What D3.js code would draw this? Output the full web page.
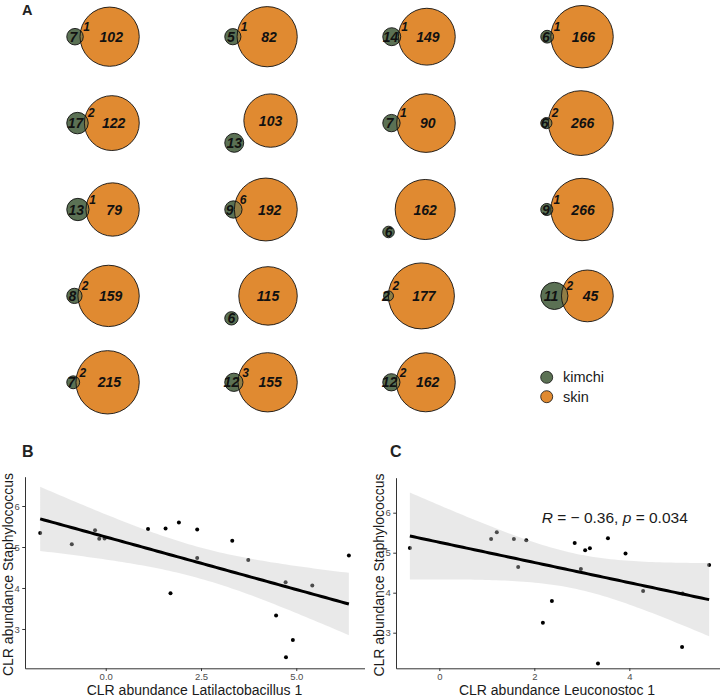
<!DOCTYPE html>
<html>
<head>
<meta charset="utf-8">
<script src="https://cdn.jsdelivr.net/npm/d3@7"></script>
<style>
  body { margin: 0; background: #fff; }
  svg { display: block; font-family: "Liberation Sans", Arial, sans-serif; }
</style>
</head>
<body>
<svg id="fig" width="720" height="696"></svg>
<script>
// panel A: one euler diagram per sample, read row by row (kimchi only / shared / skin only)
const kimchiOnly = [7, 5, 14, 6, 17, 13, 7, 6, 13, 9, 6, 9, 8, 6, 2, 11, 7, 12, 12];
const sharedTaxa = [1, 1, 1, 1, 2, 0, 1, 2, 1, 6, 0, 1, 2, 0, 2, 2, 2, 3, 2];
const skinOnly = [102, 82, 149, 166, 122, 103, 90, 266, 79, 192, 162, 266, 159, 115, 177, 45, 215, 155, 162];
const groups = ["kimchi", "skin"];
const groupColors = ["#5b7154", "#e08a31"];
const lensColor = "#917d45";

// panel B
const latilactoCLR = [-1.72, -0.89, -0.28, -0.17, -0.03, 1.11, 1.57, 1.92, 1.70, 2.40, 2.40, 3.32, 3.74, 4.47, 4.72, 4.73, 4.91, 5.42, 6.38];
const staphB = [5.34, 5.07, 5.41, 5.20, 5.21, 5.44, 5.45, 5.60, 3.87, 5.43, 4.73, 5.15, 4.68, 3.33, 4.14, 2.31, 2.73, 4.06, 4.79];
const xTicksB = [0, 2.5, 5];
const yTicksB = [3, 4, 5, 6];

// panel C
const leuconoCLR = [-0.62, 1.09, 1.21, 1.57, 1.83, 1.66, 2.18, 2.37, 2.85, 2.98, 3.07, 3.17, 3.34, 3.55, 3.92, 4.29, 5.11, 5.12, 5.68];
const staphC = [5.12, 5.34, 5.51, 5.34, 5.31, 4.64, 3.25, 3.79, 5.24, 4.59, 5.06, 5.11, 2.23, 5.36, 4.98, 4.04, 2.64, 3.98, 4.69];
const xTicksC = [0, 2, 4];
const yTicksC = [3, 4, 5, 6];
const corrLabel = ["R", " = \u2212 0.36, ", "p", " = 0.034"];

const svg = d3.select("#fig");

// ---------- panel A ----------
function lensArea(r1, r2, d) {
  if (d >= r1 + r2) return 0;
  if (d <= Math.abs(r1 - r2)) return Math.PI * Math.min(r1, r2) ** 2;
  const a1 = Math.acos((d * d + r1 * r1 - r2 * r2) / (2 * d * r1));
  const a2 = Math.acos((d * d + r2 * r2 - r1 * r1) / (2 * d * r2));
  return r1 * r1 * a1 + r2 * r2 * a2 -
    0.5 * Math.sqrt((-d + r1 + r2) * (d + r1 - r2) * (d - r1 + r2) * (d + r1 + r2));
}
function solveDist(r1, r2, target) {
  let lo = Math.abs(r1 - r2), hi = r1 + r2;
  for (let i = 0; i < 60; i++) {
    const mid = (lo + hi) / 2;
    if (lensArea(r1, r2, mid) > target) lo = mid; else hi = mid;
  }
  return (lo + hi) / 2;
}

const colX = d3.scaleLinear().domain([0, 3]).range([103, 577]);
const rowY = d3.scaleLinear().domain([0, 4]).range([36.7, 382.3]);
const boxW = 72.5, boxH = 66;

skinOnly.forEach((sk, i) => {
  const ko = kimchiOnly[i], sh = sharedTaxa[i];
  const rk = Math.sqrt((ko + sh) / Math.PI);
  const rs = Math.sqrt((sk + sh) / Math.PI);
  let kx, ky;
  if (sh > 0) {
    kx = -solveDist(rk, rs, sh); ky = 0;
  } else {
    // disjoint sets sit off to the lower left
    const d = rs + rk + 0.24 * rs, ang = 31.5 * Math.PI / 180;
    kx = -d * Math.cos(ang); ky = d * Math.sin(ang);
  }
  const x0 = Math.min(kx - rk, -rs), x1 = Math.max(kx + rk, rs);
  const y0 = Math.min(ky - rk, -rs), y1 = Math.max(ky + rk, rs);
  const k = Math.min(boxW / (x1 - x0), boxH / (y1 - y0));
  const cx = colX(i % 4), cy = rowY(Math.floor(i / 4));
  const xs = d3.scaleLinear().domain([x0, x1]).range([cx - (x1 - x0) * k / 2, cx + (x1 - x0) * k / 2]);
  const ys = d3.scaleLinear().domain([y0, y1]).range([cy - (y1 - y0) * k / 2, cy + (y1 - y0) * k / 2]);

  const g = svg.append("g");
  const clipId = "skinclip" + i;
  g.append("clipPath").attr("id", clipId)
    .append("circle").attr("cx", xs(0)).attr("cy", ys(0)).attr("r", rs * k);

  g.append("circle").attr("cx", xs(0)).attr("cy", ys(0)).attr("r", rs * k).attr("fill", groupColors[1]);
  g.append("circle").attr("cx", xs(kx)).attr("cy", ys(ky)).attr("r", rk * k).attr("fill", groupColors[0]);
  g.append("circle").attr("cx", xs(kx)).attr("cy", ys(ky)).attr("r", rk * k)
    .attr("fill", lensColor).attr("clip-path", `url(#${clipId})`);
  g.append("circle").attr("cx", xs(0)).attr("cy", ys(0)).attr("r", rs * k)
    .attr("fill", "none").attr("stroke", "#111").attr("stroke-width", 0.9);
  g.append("circle").attr("cx", xs(kx)).attr("cy", ys(ky)).attr("r", rk * k)
    .attr("fill", "none").attr("stroke", "#111").attr("stroke-width", 0.9);

  let skinLx = 0, kimLx = kx;
  if (sh > 0) {
    skinLx = ((kx + rk) + rs) / 2;
    kimLx = ((kx - rk) + (-rs)) / 2;
  }
  const lab = (x, y, t, size) => g.append("text")
    .attr("x", x).attr("y", y).attr("dy", "0.36em")
    .attr("text-anchor", "middle")
    .attr("font-size", size).attr("font-weight", "bold").attr("font-style", "italic")
    .attr("fill", "#111").text(t);
  lab(xs(skinLx), ys(0), sk, 14);
  lab(xs(kimLx), ys(ky), ko, 14);
  if (sh > 0) {
    const lensX = ((kx + rk) + (-rs)) / 2;
    lab(xs(lensX) + 5, ys(0) - 10, sh, 12);
  }
});

// legend
const leg = svg.append("g");
groups.forEach((name, i) => {
  const y = 377.3 + i * 19.4;
  leg.append("circle").attr("cx", 546.7).attr("cy", y).attr("r", 6)
    .attr("fill", groupColors[i]).attr("stroke", "#111").attr("stroke-width", 0.8);
  leg.append("text").attr("x", 563).attr("y", y).attr("dy", "0.35em")
    .attr("font-size", 14.5).attr("fill", "#1a1a1a").text(name);
});

svg.append("text").attr("x", 22).attr("y", 14.5).attr("font-size", 14.5)
  .attr("font-weight", "bold").attr("fill", "#222").text("A");

// ---------- panels B and C ----------
function drawScatter(o) {
  const n = o.xs.length;
  const mx = d3.mean(o.xs), my = d3.mean(o.ys);
  let sxx = 0, sxy = 0;
  o.xs.forEach((x, i) => { sxx += (x - mx) ** 2; sxy += (x - mx) * (o.ys[i] - my); });
  const b = sxy / sxx, a = my - b * mx;
  const rss = d3.sum(o.xs, (x, i) => (o.ys[i] - a - b * x) ** 2);
  const s = Math.sqrt(rss / (n - 2));
  const tq = 2.1098; // t(0.975, df = 17)
  const [xmin, xmax] = d3.extent(o.xs);
  const fit = d3.range(80).map(j => {
    const x = xmin + (xmax - xmin) * j / 79;
    const se = s * Math.sqrt(1 / n + (x - mx) ** 2 / sxx);
    const f = a + b * x;
    return { x, f, lo: f - tq * se, hi: f + tq * se };
  });

  const x = d3.scaleLinear().domain(o.xDomain).range([o.left, o.right]);
  const y = d3.scaleLinear().domain(o.yDomain).range([o.bottom, o.top]);

  const g = svg.append("g");
  g.selectAll("circle.pt").data(o.xs).enter().append("circle")
    .attr("class", "pt")
    .attr("cx", d => x(d)).attr("cy", (d, i) => y(o.ys[i]))
    .attr("r", 2).attr("fill", "#000");

  g.append("path").datum(fit)
    .attr("fill", "#c6c6c6").attr("fill-opacity", 0.38)
    .attr("d", d3.area().x(d => x(d.x)).y0(d => y(d.lo)).y1(d => y(d.hi)));
  g.append("path").datum(fit)
    .attr("fill", "none").attr("stroke", "#000").attr("stroke-width", 3)
    .attr("d", d3.line().x(d => x(d.x)).y(d => y(d.f)));

  const xAxis = g.append("g").attr("transform", `translate(0,${o.bottom})`)
    .call(d3.axisBottom(x).tickValues(o.xTicks).tickFormat(o.xFmt)
      .tickSizeInner(2.75).tickSizeOuter(0).tickPadding(2.5));
  const yAxis = g.append("g").attr("transform", `translate(${o.left},0)`)
    .call(d3.axisLeft(y).tickValues(o.yTicks).tickFormat(d3.format("d"))
      .tickSizeInner(2.75).tickSizeOuter(0).tickPadding(2.5));
  [xAxis, yAxis].forEach(ax => {
    ax.select(".domain").attr("stroke", "#333").attr("stroke-width", 1);
    ax.selectAll(".tick line").attr("stroke", "#333");
    ax.selectAll(".tick text").attr("fill", "#4d4d4d").attr("font-size", 9.5)
      .attr("font-family", "Liberation Sans, Arial, sans-serif");
  });

  g.append("text").attr("x", o.xTitleX).attr("y", 694.5)
    .attr("text-anchor", "middle").attr("font-size", 14).attr("fill", "#1a1a1a")
    .text(o.xTitle);
  g.append("text")
    .attr("transform", `translate(${o.yTitleX},${(o.top + o.bottom) / 2 + 2}) rotate(-90)`)
    .attr("text-anchor", "middle").attr("font-size", 14).attr("fill", "#1a1a1a")
    .text(o.yTitle);
  g.append("text").attr("x", o.tagX).attr("y", 456.7).attr("font-size", 16)
    .attr("font-weight", "bold").attr("fill", "#222").text(o.tag);
  return { x, y, g };
}

drawScatter({
  xs: latilactoCLR, ys: staphB, left: 25, right: 364.5, top: 476.7, bottom: 668.3,
  xDomain: [-2.118, 6.79], yDomain: [2.041, 6.715],
  xTicks: xTicksB, yTicks: yTicksB, xFmt: d3.format(".1f"),
  xTitle: "CLR abundance Latilactobacillus 1", yTitle: "CLR abundance Staphylococcus",
  xTitleX: 194.5, yTitleX: 12.5, tag: "B", tagX: 22
});

const pc = drawScatter({
  xs: leuconoCLR, ys: staphC, left: 396, right: 725, top: 477.7, bottom: 668.3,
  xDomain: [-0.912, 6.014], yDomain: [2.11, 6.875],
  xTicks: xTicksC, yTicks: yTicksC, xFmt: d3.format("d"),
  xTitle: "CLR abundance Leuconostoc 1", yTitle: "CLR abundance Staphylococcus",
  xTitleX: 557, yTitleX: 384, tag: "C", tagX: 390
});

const rt = pc.g.append("text").attr("x", 541.7).attr("y", 523.3)
  .attr("font-size", 15.5).attr("fill", "#1a1a1a");
corrLabel.forEach((t, i) => {
  rt.append("tspan").attr("font-style", i % 2 === 0 ? "italic" : "normal").text(t);
});
</script>
</body>
</html>
